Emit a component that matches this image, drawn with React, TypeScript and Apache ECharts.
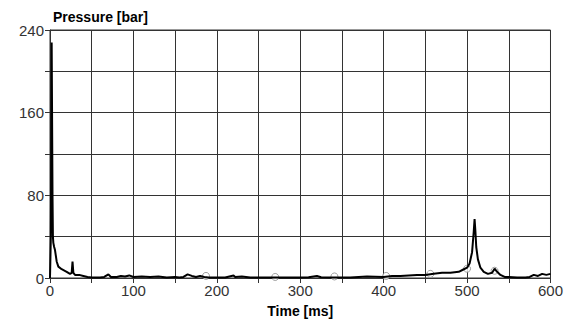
import React, { useEffect, useRef } from "react";
import * as echarts from "echarts";

const times = [0, 1, 1.5, 2, 2.5, 3, 3.5, 4, 5, 6, 8, 10, 14, 20, 24, 26, 27, 28, 30, 35, 40, 45, 50, 60, 65, 70, 73, 80, 85, 90, 95, 100, 110, 120, 130, 140, 150, 155, 160, 165, 170, 175, 180, 185, 190, 200, 210, 220, 222, 230, 240, 250, 270, 290, 300, 310, 320, 325, 340, 360, 380, 400, 410, 420, 430, 440, 450, 460, 470, 480, 490, 495, 500, 503, 506, 508, 509, 510, 511, 513, 516, 520, 525, 530, 533, 536, 540, 545, 550, 560, 570, 575, 580, 585, 590, 595, 600];
const pressure = [0, 40, 120, 228, 228, 80, 40, 34, 30, 27, 16, 11, 8.5, 6, 4, 5, 16, 5, 3, 3, 2, 1, 0.5, 0.5, 1, 3.5, 1, 1, 2, 1.5, 2.5, 1, 1.5, 1, 1.5, 0.5, 1, 0.5, 1, 3.5, 2, 1, 2, 1, 0.5, 0.5, 0.5, 2.5, 1, 1.5, 0.5, 0.5, 0.5, 0.5, 0.5, 0.8, 2, 0.8, 0.5, 0.5, 1.5, 1, 2, 2, 2.5, 3, 3, 4, 5, 5, 6, 8, 10, 14, 25, 45, 57, 45, 30, 18, 10, 6, 4, 5, 9, 6, 3, 1, 1, 0.5, 0.5, 1, 3, 2, 4, 3, 4];

const markerTimes = [187, 270, 341, 403, 456, 500, 533];
const markerValues = [2, 1, 1.5, 2, 4, 9, 7];

const yTickLabels = [0, 80, 160, 240];
const xTickLabels = [0, 100, 200, 300, 400, 500, 600];

export default function App() {
  const ref = useRef<HTMLDivElement>(null);
  useEffect(() => {
    document.body.style.margin = "0";
    const chart = echarts.init(ref.current!, null, { renderer: "svg" });
    const font = "'Liberation Sans', Arial, sans-serif";
    chart.setOption({
      animation: false,
      backgroundColor: "#fff",
      title: {
        text: "Pressure [bar]",
        left: 48,
        top: 5,
        textStyle: { fontFamily: font, fontSize: 14, fontWeight: "bold", color: "#000" },
      },
      grid: {
        left: 50,
        right: 12,
        top: 30,
        bottom: 43,
        show: true,
        borderColor: "#333",
        borderWidth: 1,
      },
      xAxis: {
        type: "value",
        min: 0,
        max: 600,
        interval: 50,
        name: "Time [ms]",
        nameLocation: "middle",
        nameGap: 26,
        nameTextStyle: { fontFamily: font, fontSize: 14, fontWeight: "bold", color: "#000" },
        axisLine: { show: true, lineStyle: { color: "#333" } },
        axisTick: { show: true, length: 5, lineStyle: { color: "#333" } },
        splitLine: { show: true, lineStyle: { color: "#333", width: 1 } },
        axisLabel: {
          fontFamily: font,
          fontSize: 15,
          color: "#333",
          margin: 5,
          formatter: (v: number) => (xTickLabels.includes(v) ? String(v) : ""),
        },
      },
      yAxis: {
        type: "value",
        min: 0,
        max: 240,
        interval: 40,
        axisLine: { show: true, lineStyle: { color: "#333" } },
        axisTick: { show: true, length: 5, lineStyle: { color: "#333" } },
        splitLine: { show: true, lineStyle: { color: "#333", width: 1 } },
        axisLabel: {
          fontFamily: font,
          fontSize: 15,
          color: "#333",
          margin: 6,
          formatter: (v: number) => (yTickLabels.includes(v) ? String(v) : ""),
        },
      },
      series: [
        {
          type: "scatter",
          data: markerTimes.map((t, i) => [t, markerValues[i]]),
          symbol: "circle",
          symbolSize: 7,
          itemStyle: { color: "#fff", borderColor: "#888", borderWidth: 1 },
          z: 2,
        },
        {
          type: "line",
          data: times.map((t, i) => [t, pressure[i]]),
          showSymbol: false,
          lineStyle: { color: "#000", width: 2 },
          z: 3,
        },
      ],
    });
    return () => chart.dispose();
  }, []);
  return <div ref={ref} style={{ width: 566, height: 323 }} />;
}
